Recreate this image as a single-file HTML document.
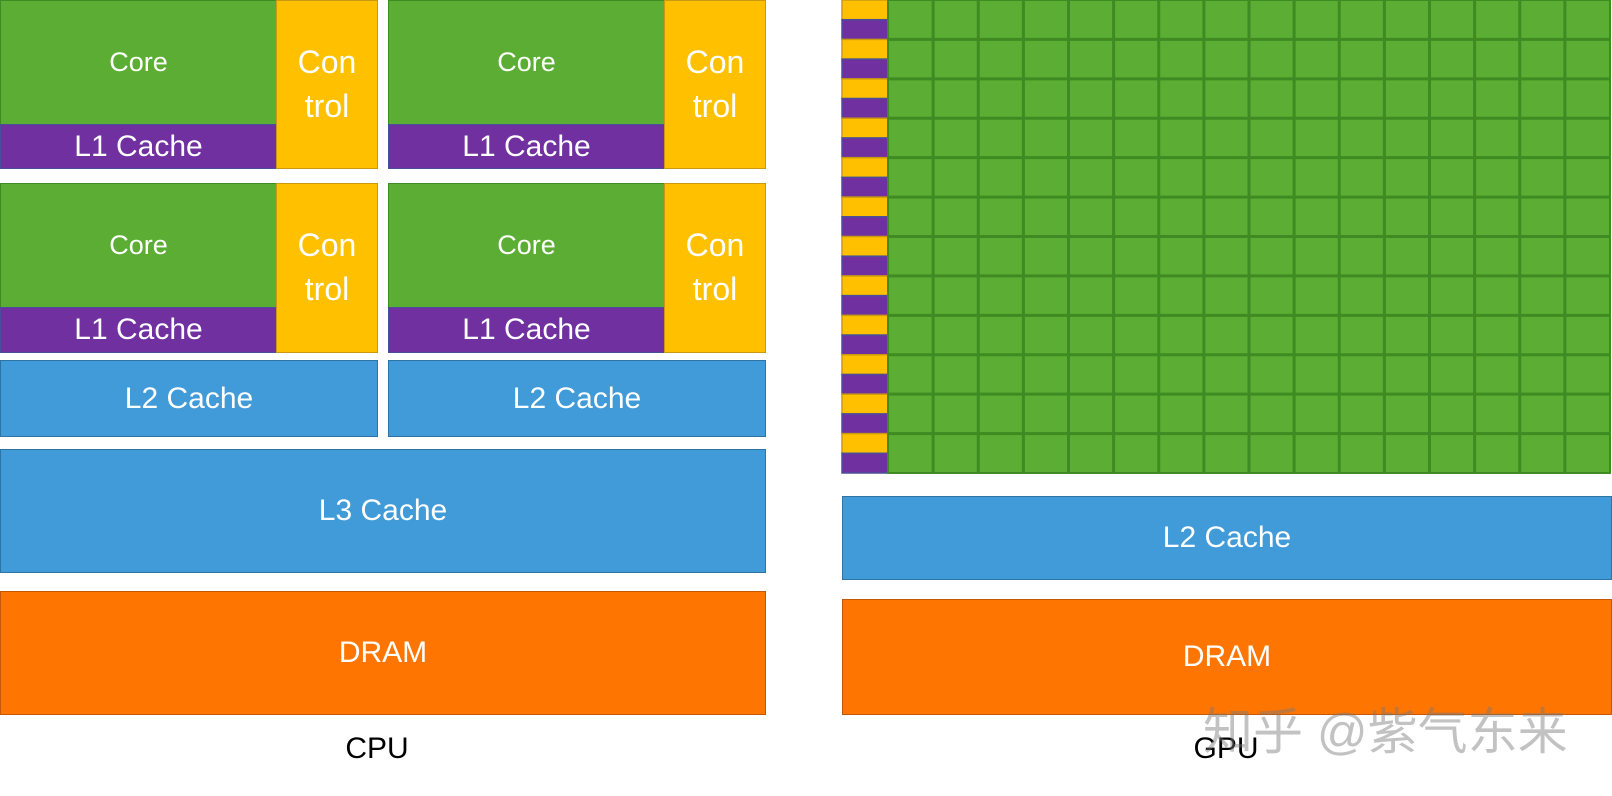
<!DOCTYPE html><html><head><style>
body{margin:0;width:1612px;height:796px;background:#fff;position:relative;overflow:hidden;font-family:"Liberation Sans",sans-serif}
.b{position:absolute;box-sizing:border-box;color:#fff;display:flex;align-items:center;justify-content:center;text-align:center}
.g{background:#5BAE33;border:1.5px solid #3F8A23;font-size:27px}
.p{background:#7030A0;border:1.5px solid #4A4E9A;font-size:30px}
.y{background:#FFC000;border:1.5px solid #C99A10;font-size:32px;line-height:44px}
.bl{background:#419BD8;border:1.5px solid #2F72A4;font-size:30px}
.o{background:#FF7502;border:1.5px solid #C25A08;font-size:30px}
.lab{position:absolute;font-size:30px;color:#000;transform:translateX(-50%)}
</style></head><body>
<div class="b g" style="left:0;top:0;width:277px;height:125px">Core</div>
<div class="b p" style="left:0;top:124px;width:277px;height:45px">L1 Cache</div>
<div class="b y" style="left:276px;top:0;width:102px;height:169px;padding-bottom:2px">Con<br>trol</div>
<div class="b g" style="left:388px;top:0;width:277px;height:125px">Core</div>
<div class="b p" style="left:388px;top:124px;width:277px;height:45px">L1 Cache</div>
<div class="b y" style="left:664px;top:0;width:102px;height:169px;padding-bottom:2px">Con<br>trol</div>
<div class="b g" style="left:0;top:183px;width:277px;height:125px">Core</div>
<div class="b p" style="left:0;top:307px;width:277px;height:46px">L1 Cache</div>
<div class="b y" style="left:276px;top:183px;width:102px;height:170px;padding-bottom:2px">Con<br>trol</div>
<div class="b g" style="left:388px;top:183px;width:277px;height:125px">Core</div>
<div class="b p" style="left:388px;top:307px;width:277px;height:46px">L1 Cache</div>
<div class="b y" style="left:664px;top:183px;width:102px;height:170px;padding-bottom:2px">Con<br>trol</div>
<div class="b bl" style="left:0;top:360px;width:378px;height:77px">L2 Cache</div>
<div class="b bl" style="left:388px;top:360px;width:378px;height:77px">L2 Cache</div>
<div class="b bl" style="left:0;top:449px;width:766px;height:124px">L3 Cache</div>
<div class="b o" style="left:0;top:591px;width:766px;height:124px">DRAM</div>
<div class="lab" style="left:377px;top:732px">CPU</div>
<svg style="position:absolute;left:0;top:0" width="1612" height="796">
<g id="strip"></g>
<rect x="888" y="0" width="722" height="473" fill="#5BAE33" stroke="#3F8A23" stroke-width="2"/>
<g stroke="#3F8A23" stroke-width="3" id="gl"></g>
</svg>
<div class="b bl" style="left:842px;top:496px;width:770px;height:84px">L2 Cache</div>
<div class="b o" style="left:842px;top:599px;width:770px;height:116px">DRAM</div>
<div class="lab" style="left:1226px;top:732px">GPU</div>
<div style="position:absolute;left:1203px;top:692px;font-size:50px;color:rgba(120,120,120,0.45);font-family:'Liberation Sans','Noto Sans CJK SC',sans-serif;white-space:nowrap">知乎 @紫气东来</div>
<script>
var s='',h=473/24;
for(var i=0;i<24;i++)s+='<rect x="842" y="'+(i*h)+'" width="46" height="'+h+'" fill="'+(i%2?'#7030A0':'#FFC000')+'" stroke="'+(i%2?'#4A4E9A':'#C99A10')+'" stroke-width="1.5"/>';
document.getElementById('strip').innerHTML=s;
var l='';
for(var i=1;i<16;i++){var x=888+i*722/16;l+='<line x1="'+x+'" y1="0" x2="'+x+'" y2="473"/>';}
for(var j=1;j<12;j++){var y=j*473/12;l+='<line x1="888" y1="'+y+'" x2="1610" y2="'+y+'"/>';}
document.getElementById('gl').innerHTML=l;
</script>
</body></html>
